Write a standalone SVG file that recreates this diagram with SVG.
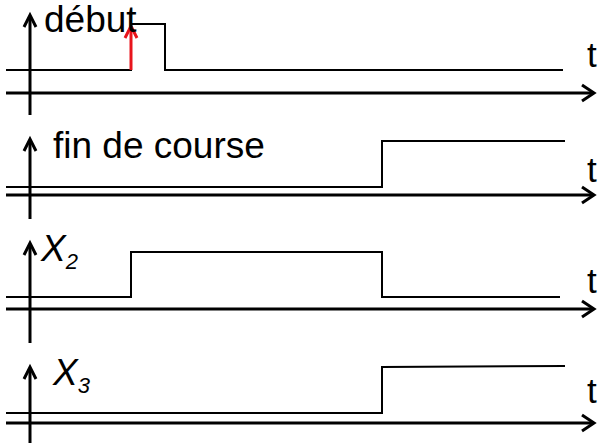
<svg xmlns="http://www.w3.org/2000/svg" width="601" height="443" viewBox="0 0 601 443">
  <style>
    .axis { fill: none; stroke: #000; stroke-width: 3; }
    .head { fill: none; stroke: #000; stroke-width: 3; stroke-linejoin: miter; stroke-linecap: butt; }
    .sig { fill: none; stroke: #000; stroke-width: 2; }
    .edge { fill: none; stroke: #e8141c; stroke-width: 3; }
    .edgehead { fill: none; stroke: #e8141c; stroke-width: 3; }
    .lbl { font-family: "Liberation Sans", Arial, sans-serif; font-size: 37px; fill: #000; }
    .t { font-size: 35px; }
    .var { font-style: italic; }
    .sub { font-size: 22px; }
  </style>

  <!-- timing chart: "début" -->
  <g id="chrono-debut">
    <line class="axis" x1="30" y1="16" x2="30" y2="115"/>
    <polyline class="head" points="24,27 30,15 36,27"/>
    <line class="axis" x1="6" y1="93" x2="593" y2="93"/>
    <polyline class="head" points="582,85 594,93 582,101"/>
    <polyline class="sig" points="6,70 131,70 131,24 165,24 165,70 563,70"/>
    <line class="edge" x1="131" y1="70" x2="131" y2="27"/>
    <polyline class="edgehead" points="125,38 131,26 137,38"/>
    <text class="lbl" x="44" y="32">début</text>
    <text class="lbl t" x="587" y="67">t</text>
  </g>

  <!-- timing chart: "fin de course" -->
  <g id="chrono-fdc">
    <line class="axis" x1="30" y1="140" x2="30" y2="219"/>
    <polyline class="head" points="24,151 30,139 36,151"/>
    <line class="axis" x1="6" y1="195" x2="593" y2="195"/>
    <polyline class="head" points="582,187 594,195 582,203"/>
    <polyline class="sig" points="6,187 382,187 382,141 565,141"/>
    <text class="lbl" x="53" y="158">fin de course</text>
    <text class="lbl t" x="587" y="182">t</text>
  </g>

  <!-- timing chart: X2 -->
  <g id="chrono-x2">
    <line class="axis" x1="30" y1="244" x2="30" y2="343"/>
    <polyline class="head" points="24,255 30,243 36,255"/>
    <line class="axis" x1="6" y1="309" x2="593" y2="309"/>
    <polyline class="head" points="582,301 594,309 582,317"/>
    <polyline class="sig" points="6,297 131,297 131,252 382,252 382,297 560,297"/>
    <text class="lbl var" x="41" y="261">X<tspan class="sub" dy="8">2</tspan></text>
    <text class="lbl t" x="587" y="293">t</text>
  </g>

  <!-- timing chart: X3 -->
  <g id="chrono-x3">
    <line class="axis" x1="30" y1="368" x2="30" y2="443"/>
    <polyline class="head" points="24,379 30,367 36,379"/>
    <line class="axis" x1="6" y1="423" x2="593" y2="423"/>
    <polyline class="head" points="582,415 594,423 582,431"/>
    <polyline class="sig" points="6,413 382,413 382,367 565,366"/>
    <text class="lbl var" x="53" y="385">X<tspan class="sub" dy="8">3</tspan></text>
    <text class="lbl t" x="587" y="403">t</text>
  </g>
</svg>
